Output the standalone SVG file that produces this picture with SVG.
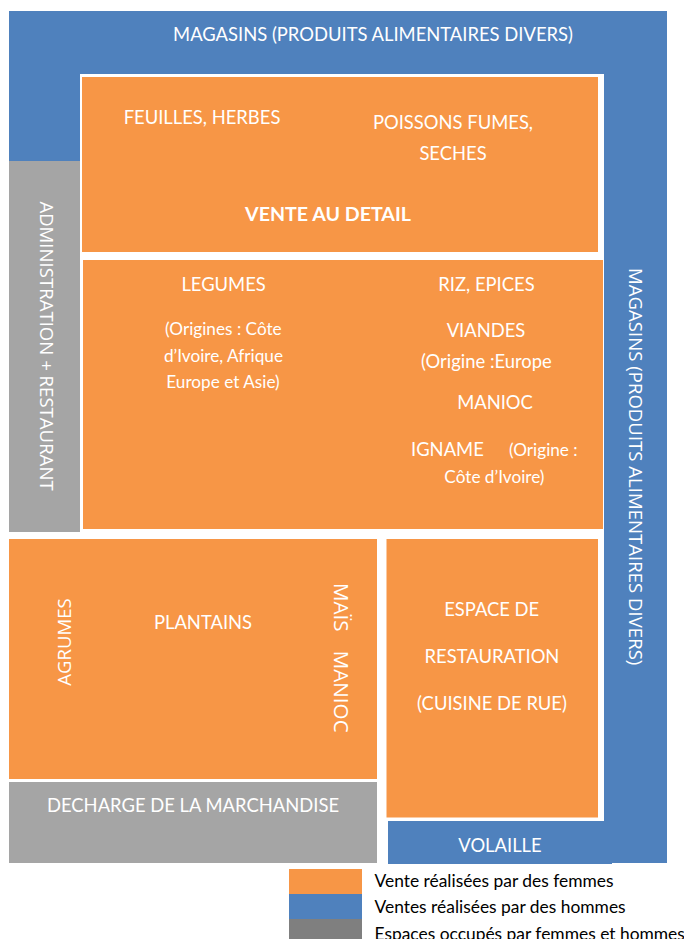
<svg xmlns="http://www.w3.org/2000/svg" width="684" height="939" viewBox="0 0 684 939">
<style>
.o{fill:#F79646}
.b{fill:#4F81BD}
.g{fill:#A5A5A5}
.dg{fill:#7F7F7F}
.t{font-family:"Lato","Liberation Sans",sans-serif;fill:#FFFFFF;font-size:18.4px;text-anchor:middle}
.s{font-size:17.2px}
.st{text-anchor:start}
.bd{font-weight:bold;font-size:19.6px}
.r{font-family:"Open Sans","DejaVu Sans",sans-serif;fill:#FFFFFF;font-size:18.6px;text-anchor:middle}
.rl{font-size:20.6px}
.lg{font-family:"Lato","Liberation Sans",sans-serif;fill:#000000;font-size:17.4px}
</style>
<rect x="0" y="0" width="684" height="939" fill="#FFFFFF"/>
<g id="magasins-haut">
<rect class="b" x="9" y="11" width="658" height="63"/>
<rect class="b" x="9" y="11" width="71" height="150"/>
<text class="t" x="373" y="41">MAGASINS (PRODUITS ALIMENTAIRES DIVERS)</text>
</g>
<g id="magasins-droite">
<rect class="b" x="604" y="11" width="63" height="852"/>
<text class="r" transform="translate(628.5,466.7) rotate(90)">MAGASINS (PRODUITS ALIMENTAIRES DIVERS)</text>
</g>
<g id="administration">
<rect class="g" x="9" y="161" width="71" height="371"/>
<text class="r" transform="translate(39.5,346) rotate(90)">ADMINISTRATION + RESTAURANT</text>
</g>
<g id="vente-detail">
<rect class="o" x="82" y="77" width="516" height="175"/>
<text class="t" x="202" y="124">FEUILLES, HERBES</text>
<text class="t" x="453" y="129.3">POISSONS FUMES,</text>
<text class="t" x="453" y="160">SECHES</text>
<text class="t bd" x="328" y="220.7">VENTE AU DETAIL</text>
</g>
<g id="legumes-viandes">
<rect class="o" x="83" y="260" width="520" height="269"/>
<text class="t" x="223.6" y="290.7">LEGUMES</text>
<text class="t s" x="223.4" y="335">(Origines : Côte</text>
<text class="t s" x="223.5" y="361.7">d’Ivoire, Afrique</text>
<text class="t s" x="223" y="388.3">Europe et Asie)</text>
<text class="t" x="486.5" y="290.7">RIZ, EPICES</text>
<text class="t" x="486" y="337.3">VIANDES</text>
<text class="t" x="486.4" y="368.3">(Origine :Europe</text>
<text class="t" x="495" y="409">MANIOC</text>
<text class="t st" x="411" y="455.7">IGNAME</text>
<text class="t s st" x="509" y="455.7">(Origine :</text>
<text class="t s" x="494.4" y="483.3">Côte d’Ivoire)</text>
</g>
<g id="plantains">
<rect class="o" x="9" y="539" width="368" height="240"/>
<text class="r" transform="translate(71,642) rotate(-90)">AGRUMES</text>
<text class="t" x="203" y="629">PLANTAINS</text>
<text class="r rl" transform="translate(334.3,607.2) rotate(90)">MAÏS</text>
<text class="r rl" transform="translate(334.3,691.7) rotate(90)">MANIOC</text>
</g>
<g id="decharge">
<rect class="g" x="9" y="782" width="368" height="81"/>
<text class="t" x="193" y="812.3">DECHARGE DE LA MARCHANDISE</text>
</g>
<g id="restauration">
<rect class="o" x="386.5" y="539" width="211.5" height="278.5"/>
<text class="t" x="491.7" y="615.7">ESPACE DE</text>
<text class="t" x="492" y="662.7">RESTAURATION</text>
<text class="t" x="492" y="710">(CUISINE DE RUE)</text>
</g>
<g id="volaille">
<rect class="b" x="388" y="821" width="224" height="43"/>
<text class="t" x="500" y="851.7">VOLAILLE</text>
</g>
<g id="connectors"></g>
<g id="legende">
<rect class="o" x="289" y="869" width="73" height="25"/>
<rect class="b" x="289" y="894" width="73" height="25"/>
<rect class="dg" x="289" y="919" width="73" height="20"/>
<text class="lg" x="374.5" y="886.7">Vente réalisées par des femmes</text>
<text class="lg" x="374.5" y="912.7">Ventes réalisées par des hommes</text>
<text class="lg" x="374.5" y="940">Espaces occupés par femmes et hommes</text>
</g>
</svg>
